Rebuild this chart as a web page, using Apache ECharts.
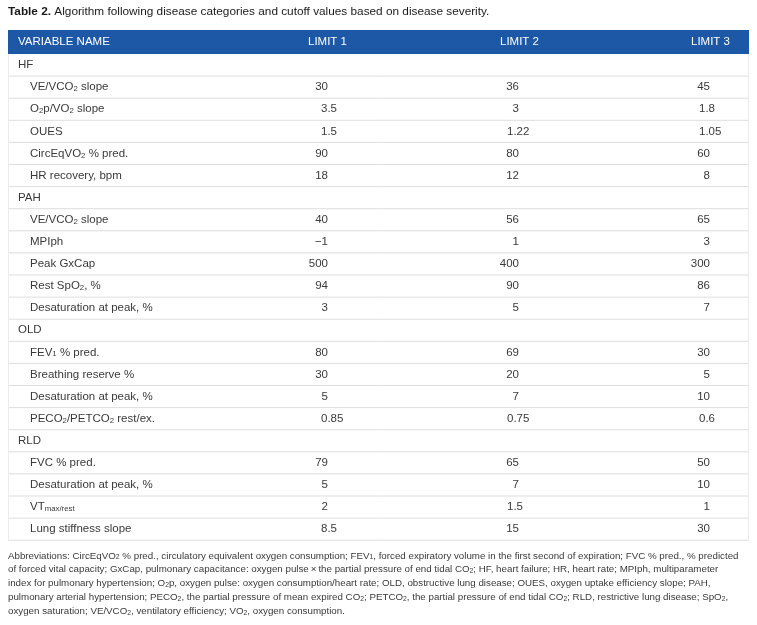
<!DOCTYPE html>
<html>
<head>
<meta charset="utf-8">
<script src="https://cdn.jsdelivr.net/npm/echarts@6/dist/echarts.min.js"></script>
<style>
html,body{margin:0;padding:0;background:#fff;}
#chart{width:757px;height:625px;}
</style>
</head>
<body>
<div id="chart"></div>
<script>
// ---- data ----
const headers = ['VARIABLE NAME', 'LIMIT 1', 'LIMIT 2', 'LIMIT 3'];
const rowNames = [
  'HF',
  'VE/VCO{s|2} slope',
  'O{s|2}p/VO{s|2} slope',
  'OUES',
  'CircEqVO{s|2} % pred.',
  'HR recovery, bpm',
  'PAH',
  'VE/VCO{s|2} slope',
  'MPIph',
  'Peak GxCap',
  'Rest SpO{s|2}, %',
  'Desaturation at peak, %',
  'OLD',
  'FEV{s|1} % pred.',
  'Breathing reserve %',
  'Desaturation at peak, %',
  'PECO{s|2}/PETCO{s|2} rest/ex.',
  'RLD',
  'FVC % pred.',
  'Desaturation at peak, %',
  'VT{s|max/rest}',
  'Lung stiffness slope'
];
const isGroup = [1,0,0,0,0,0,1,0,0,0,0,0,1,0,0,0,0,1,0,0,0,0];
const limit1 = ['', '30', '3.5', '1.5', '90', '18', '', '40', '\u22121', '500', '94', '3', '', '80', '30', '5', '0.85', '', '79', '5', '2', '8.5'];
const limit2 = ['', '36', '3', '1.22', '80', '12', '', '56', '1', '400', '90', '5', '', '69', '20', '7', '0.75', '', '65', '7', '1.5', '15'];
const limit3 = ['', '45', '1.8', '1.05', '60', '8', '', '65', '3', '300', '86', '7', '', '30', '5', '10', '0.6', '', '50', '10', '1', '30'];
const titleBold = 'Table 2.';
const titleText = ' Algorithm following disease categories and cutoff values based on disease severity.';
const footnoteLines = [
  'Abbreviations: CircEqVO{s|2} % pred., circulatory equivalent oxygen consumption; FEV{s|1}, forced expiratory volume in the first second of expiration; FVC % pred., % predicted',
  'of forced vital capacity; GxCap, pulmonary capacitance: oxygen pulse\u2009\u00d7\u2009the partial pressure of end tidal CO{s|2}; HF, heart failure; HR, heart rate; MPIph, multiparameter',
  'index for pulmonary hypertension; O{s|2}p, oxygen pulse: oxygen consumption/heart rate; OLD, obstructive lung disease; OUES, oxygen uptake efficiency slope; PAH,',
  'pulmonary arterial hypertension; PECO{s|2}, the partial pressure of mean expired CO{s|2}; PETCO{s|2}, the partial pressure of end tidal CO{s|2}; RLD, restrictive lung disease; SpO{s|2},',
  'oxygen saturation; VE/VCO{s|2}, ventilatory efficiency; VO{s|2}, oxygen consumption.'
];

// ---- layout / style ----
const FONT = '"Liberation Sans", Arial, Helvetica, sans-serif';
const TEXT = '#3a3a3a';
const LINE = '#dedede';
const BLUE = '#1c58a5';
const W = 741;                 // table width in axis units (px)
const groupX = 10, subX = 22;  // label indents (axis units)
// per value column: [left anchor for decimals, right anchor for integers] (axis units)
const colAnchors = [[313, 320], [499, 511], [691, 702]];
const headerLeft = [18, 308, 500, 691]; // page px

const chart = echarts.init(document.getElementById('chart'), null, {renderer: 'canvas'});

const rowData = rowNames.map((n, i) => [0, i]);

const footGraphics = footnoteLines.map((t, i) => ({
  type: 'text',
  left: 8,
  top: 551 + i * 13.8,
  style: {
    text: t,
    font: '9.75px ' + FONT,
    fill: TEXT,
    rich: {s: {fontSize: 6.8, fontFamily: FONT, fill: TEXT, verticalAlign: 'bottom'}}
  }
}));

const headerGraphics = headers.map((h, k) => ({
  type: 'text', left: headerLeft[k], top: 36,
  style: {text: h, font: '11.5px ' + FONT, fill: '#fff'}
}));

const option = {
  backgroundColor: '#fff',
  animation: false,
  grid: {left: 8, right: 8, top: 54, height: 22 * 22.1},
  xAxis: {type: 'value', min: 0, max: W, show: false},
  yAxis: {type: 'category', data: rowNames.map((n, i) => i), inverse: true, show: false},
  graphic: [
    {
      type: 'text', left: 8, top: 6,
      style: {
        text: '{b|' + titleBold + '}' + titleText,
        font: '11.8px ' + FONT, fill: '#1a1a1a',
        rich: {b: {fontWeight: 'bold', fontSize: 11.8, fontFamily: FONT, fill: '#1a1a1a'}}
      }
    },
    {
      type: 'rect', left: 8, top: 30,
      shape: {width: W, height: 24},
      style: {fill: BLUE}
    }
  ].concat(headerGraphics, footGraphics),
  series: [{
    type: 'custom',
    coordinateSystem: 'cartesian2d',
    data: rowData,
    encode: {x: 0, y: 1},
    renderItem: function (params, api) {
      const i = api.value(1);
      const c = api.coord([0, i]);
      const h = api.size([0, 1])[1];
      const yc = c[1];
      const x0 = c[0];
      const x1 = api.coord([W, i])[0];
      const children = [];
      children.push({
        type: 'line',
        shape: {x1: x0, y1: yc + h / 2, x2: x1, y2: yc + h / 2},
        style: {stroke: LINE, lineWidth: 1}
      });
      children.push({
        type: 'line',
        shape: {x1: x0 + 0.5, y1: yc - h / 2, x2: x0 + 0.5, y2: yc + h / 2},
        style: {stroke: '#ececec', lineWidth: 1}
      });
      children.push({
        type: 'line',
        shape: {x1: x1 - 0.5, y1: yc - h / 2, x2: x1 - 0.5, y2: yc + h / 2},
        style: {stroke: '#ececec', lineWidth: 1}
      });
      const nx = api.coord([isGroup[i] ? groupX : subX, i])[0];
      children.push({
        type: 'text',
        style: {
          text: rowNames[i], x: nx, y: yc,
          font: '11.5px ' + FONT, fill: TEXT,
          align: 'left', verticalAlign: 'middle',
          rich: {s: {fontSize: 7.8, fontFamily: FONT, fill: TEXT, verticalAlign: 'bottom'}}
        }
      });
      [limit1, limit2, limit3].forEach(function (arr, k) {
        const v = arr[i];
        if (!v) return;
        const dec = v.indexOf('.') >= 0;
        const ax = dec ? colAnchors[k][0] : colAnchors[k][1];
        children.push({
          type: 'text',
          style: {
            text: v, x: api.coord([ax, i])[0], y: yc,
            font: '11.5px ' + FONT, fill: TEXT,
            align: dec ? 'left' : 'right', verticalAlign: 'middle'
          }
        });
      });
      return {type: 'group', children: children};
    }
  }]
};
chart.setOption(option);
</script>
</body>
</html>
